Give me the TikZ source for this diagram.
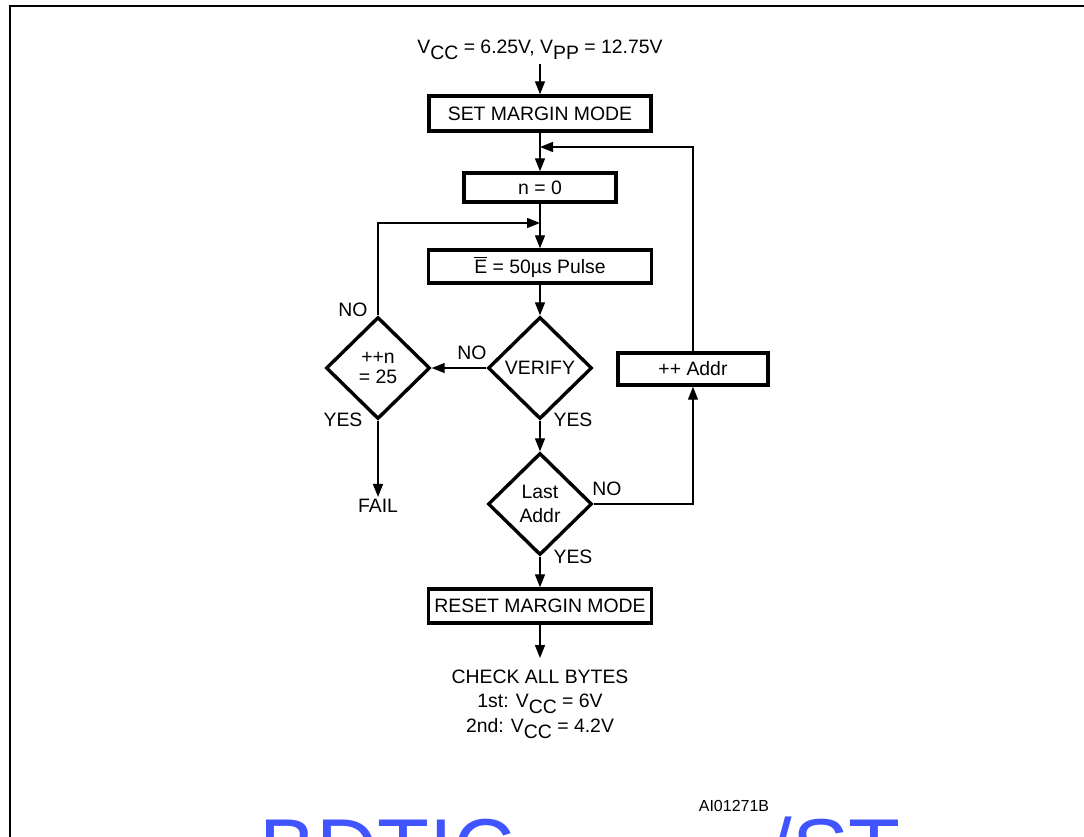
\documentclass[tikz,border=0pt]{standalone}
\usepackage{fontspec}
\setmainfont{Liberation Sans}
\usetikzlibrary{arrows.meta,shapes.geometric}
\definecolor{wmblue}{RGB}{64,85,255}
\newcommand{\lowsub}[1]{\raisebox{-3pt}{#1}}

\begin{document}
\begin{tikzpicture}[
  x=0.5pt, y=-0.5pt,
  font=\fontsize{9.7}{12.2}\selectfont,
  box/.style={draw, line width=1.7pt, inner sep=0pt},
  dec/.style={draw, diamond, aspect=1, line width=1.7pt, inner sep=0pt,
    minimum width=52pt, minimum height=51pt, align=center},
  lbl/.style={inner sep=1pt},
  arr/.style={line width=0.65pt, -{Triangle[length=6.5pt,width=5pt]}},
  frame/.style={line width=1.4pt},
  wm/.style={font=\fontsize{42.5}{50}\selectfont, text=wmblue, inner sep=0pt, anchor=base west}
]
\useasboundingbox (0,0) rectangle (1084,837);

% --- frame ---
\draw[frame] (10,837) |- (1084,6);

% --- steps ---
\node[inner sep=2pt, anchor=base] (vtop) at (540,53)
  {V\lowsub{CC} = 6.25V, V\lowsub{PP} = 12.75V};
\node[box, minimum width=111pt, minimum height=17.5pt] (set) at (540,113.5) {SET MARGIN MODE};
\node[box, minimum width=76pt, minimum height=14.5pt] (nzero) at (540,187.5) {n = 0};
\node[box, minimum width=111.5pt, minimum height=16.5pt] (pulse) at (540,266.5)
  {$\overline{\mbox{E}}$ = 50µs Pulse};
\node[dec] (verify) at (540,368) {VERIFY};
\node[dec] (count) at (378,368) {++n\\[-2.5pt]= 25};
\node[dec] (last) at (540,504) {Last\\Addr};
\node[box, minimum width=75pt, minimum height=16pt] (addr) at (693,369) {++ Addr};
\node[box, minimum width=111.5pt, minimum height=17pt] (reset) at (540,606) {RESET MARGIN MODE};
\node[lbl] (fail) at (378,506) {FAIL};
\node[inner sep=0pt, outer sep=6pt, anchor=north, align=center] (check) at (540,658)
  {CHECK ALL BYTES\\1st: V\lowsub{CC} = 6V\\2nd: V\lowsub{CC} = 4.2V};

% --- junctions of the loops ---
\coordinate (jaddr) at (540,147);
\coordinate (jn) at (540,223);

% --- connectors ---
\draw[arr] (vtop.south) -- (set.north);
\draw[arr] (set.south) -- (nzero.north);
\draw[arr] (nzero.south) -- (pulse.north);
\draw[arr] (pulse.south) -- (verify.north);
\draw[arr] (verify.west) -- (count.east);
\draw[arr] (count.north) |- (jn);
\draw[arr] (count.south) -- (fail.north);
\draw[arr] (verify.south) -- (last.north);
\draw[arr] (last.east) -| (addr.south);
\draw[arr] (addr.north) |- (jaddr);
\draw[arr] (last.south) -- (reset.north);
\draw[arr] (reset.south) -- (check.north);

% --- branch labels ---
\node[lbl] (noverify) at (472,353) {NO};
\node[lbl] (yesverify) at (573,420) {YES};
\node[lbl] (nocount) at (353,310) {NO};
\node[lbl] (yescount) at (343,420) {YES};
\node[lbl] (nolast) at (607,489) {NO};
\node[lbl] (yeslast) at (573,557) {YES};

% --- figure code and watermark ---
\node[font=\fontsize{8}{10}\selectfont, inner sep=0pt] (code) at (734,806) {AI01271B};
\node[wm] (wmleft) at (259,878) {BDTIC};
\node[wm] (wmright) at (768,878) {/ST};
\end{tikzpicture}
\end{document}
